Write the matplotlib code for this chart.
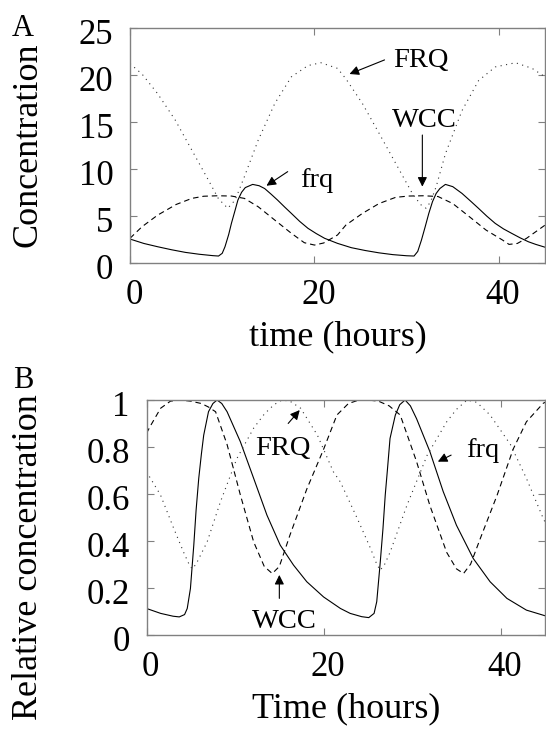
import matplotlib
matplotlib.use("Agg")
import matplotlib.pyplot as plt
import matplotlib.transforms as mtransforms

# ---- panel A: absolute concentrations ----
a_frq_t = [0, 1.5, 3, 4.5, 6, 7.5, 9, 9.6, 10.0, 10.3, 10.7, 11.0, 11.4, 11.7, 12.1, 12.5,
           13.3, 14.0, 14.6, 15.3, 16.0, 16.8, 17.5, 18.4, 19.3, 20.2, 21.1, 22.5, 24, 25.5,
           27, 28.5, 30, 30.8, 31.2, 31.6, 32.0, 32.4, 32.8, 33.2, 33.6, 34.2, 35.0, 36.0,
           37.0, 37.8, 38.7, 39.6, 40.5, 41.4, 42.3, 43.2, 44.0, 45]
a_frq = [2.52, 2.05, 1.7, 1.38, 1.1, 0.9, 0.75, 0.71, 1.0, 1.7, 3.0, 4.2, 5.6, 6.67, 7.5, 8.0,
         8.34, 8.2, 7.9, 7.3, 6.67, 5.9, 5.25, 4.4, 3.66, 3.1, 2.6, 2.06, 1.6, 1.3,
         1.05, 0.86, 0.74, 0.71, 1.2, 2.4, 3.8, 5.25, 6.5, 7.38, 7.9, 8.34, 8.1, 7.38,
         6.5, 5.78, 4.95, 4.19, 3.6, 3.12, 2.65, 2.23, 1.95, 1.65]

a_wcc_t = [0, 1.3, 3, 5, 6.7, 8, 9.5, 11, 12.4, 13.9, 15.7, 17.5, 18.9, 20.0, 21.0, 22.5,
           23.4, 25.2, 27.0, 28.8, 30.2, 31.8, 33.4, 35.0, 36.8, 38.6, 40.4, 41.1, 42.0,
           43.0, 44.0, 45]
a_wcc = [2.6, 3.83, 5.07, 6.2, 6.85, 7.08, 7.13, 7.1, 6.85, 5.96, 4.54, 3.13, 2.13, 1.88,
         2.1, 2.95, 4.0, 5.25, 6.3, 6.96, 7.1, 7.13, 7.05, 6.3, 4.9, 3.48, 2.41, 1.95, 2.05,
         2.6, 3.3, 4.0]

a_FRQ_t = [0, 1.3, 3, 4.9, 6.7, 8.5, 9.6, 10.6, 11.4, 12.4, 13.9, 15.7, 17.5, 19.3, 20.7,
           22.5, 23.4, 25.2, 27.0, 28.8, 30.6, 31.5, 32.1, 32.6, 33.2, 34.2, 36.0, 37.8,
           39.6, 41.8, 43.6, 45]
a_FRQ = [21.2, 20.1, 18.0, 15.2, 12.0, 8.8, 6.8, 5.8, 6.67, 9.15, 13.05, 16.96, 19.8, 21.0,
         21.3, 20.7, 19.6, 16.96, 13.8, 10.6, 7.4, 6.2, 5.8, 6.5, 8.1, 11.6, 16.2, 19.4,
         20.85, 21.3, 20.7, 19.8]

# ---- panel B: relative concentrations ----
b_frq_t = [0, 1.6, 3.0, 3.7, 4.3, 4.6, 4.96, 5.34, 5.6, 5.9, 6.2, 6.46, 7.0, 7.5, 7.97, 8.5,
           9.1, 10.6, 12.1, 13.6, 15.1, 16.6, 18.1, 20.0, 21.9, 23.0, 24.3, 25.1, 25.7, 26.0,
           26.4, 26.7, 26.96, 27.2, 27.5, 28.1, 28.6, 29.2, 29.8, 30.5, 32.0, 33.5, 35.0,
           36.9, 38.8, 40.7, 42.9, 45]
b_frq = [0.111, 0.09, 0.078, 0.075, 0.085, 0.111, 0.196, 0.381, 0.53, 0.666, 0.77, 0.85,
         0.95, 0.985, 1.0, 0.985, 0.95, 0.822, 0.666, 0.509, 0.381, 0.296, 0.225, 0.16, 0.111,
         0.09, 0.076, 0.072, 0.09, 0.14, 0.31, 0.45, 0.595, 0.7, 0.836, 0.936, 0.98, 1.0,
         0.975, 0.92, 0.78, 0.61, 0.466, 0.324, 0.225, 0.154, 0.104, 0.08]

b_wcc_t = [0, 0.45, 1.6, 2.7, 3.8, 5.0, 6.2, 7.0, 7.8, 9.1, 10.6, 12.1, 13.3, 14.2, 15.0,
           16.2, 18.1, 20.0, 21.5, 22.8, 24.0, 25.0, 26.2, 27.4, 28.65, 30.5, 32.0, 33.9,
           35.0, 35.8, 36.6, 37.7, 39.6, 41.4, 42.9, 44.8, 45]
b_wcc = [0.858, 0.89, 0.965, 0.995, 1.0, 0.995, 0.985, 0.97, 0.95, 0.81, 0.595, 0.395, 0.29,
         0.26, 0.29, 0.424, 0.62, 0.79, 0.936, 0.985, 1.0, 1.0, 0.995, 0.975, 0.936, 0.737,
         0.55, 0.35, 0.28, 0.26, 0.3, 0.41, 0.595, 0.79, 0.907, 0.986, 0.99]

b_FRQ_t = [0, 1.58, 3.08, 4.2, 4.8, 5.15, 5.6, 6.85, 8.35, 10.2, 12.1, 13.3, 14.4, 15.3,
           16.2, 17.4, 19.3, 21.1, 21.9, 23.8, 25.3, 26.0, 26.4, 26.9, 27.5, 29.4, 31.7,
           33.9, 35.0, 36.2, 37.3, 38.8, 41.1, 42.9, 44.8, 45]
b_FRQ = [0.694, 0.595, 0.452, 0.35, 0.3, 0.28, 0.3, 0.395, 0.566, 0.75, 0.88, 0.94, 0.98,
         1.0, 0.995, 0.965, 0.85, 0.694, 0.65, 0.495, 0.367, 0.3, 0.274, 0.3, 0.35, 0.55,
         0.765, 0.907, 0.96, 1.0, 0.99, 0.936, 0.81, 0.666, 0.495, 0.48]

a_yticks = [0, 5, 10, 15, 20, 25]
b_yticks = [0, 0.2, 0.4, 0.6, 0.8, 1]
b_yticklabels = ["0", "0.2", "0.4", "0.6", "0.8", "1"]
xticks = [0, 20, 40]

W, H = 546, 729
plt.rcParams["font.family"] = ["Liberation Serif", "DejaVu Serif"]

SOLID = dict(color="black", lw=0.8, linestyle="-")
DASHED = dict(color="black", lw=0.8, linestyle=(0, (5, 3.5)))
DOTTED = dict(color="#333333", lw=0.8, linestyle=(0, (1, 4)))
ARROW = dict(arrowstyle="-|>", color="black", lw=0.8, mutation_scale=14,
             shrinkA=0, shrinkB=0)


def frac(x0, y0, x1, y1):
    return [x0 / W, 1 - y1 / H, (x1 - x0) / W, (y1 - y0) / H]


def style_axes(ax, fig):
    for sp in ax.spines.values():
        sp.set_color("#808080")
        sp.set_linewidth(1.0)
    ax.tick_params(direction="in", length=5, width=0.8, color="#808080",
                   top=True, right=True, labelsize=25, pad=12)
    dx = mtransforms.ScaledTranslation(4 / 100, 0, fig.dpi_scale_trans)
    dy = mtransforms.ScaledTranslation(0, -4 / 100, fig.dpi_scale_trans)
    for lab in ax.get_xticklabels():
        lab.set_transform(lab.get_transform() + dx)
    for lab in ax.get_yticklabels():
        lab.set_transform(lab.get_transform() + dy)


def main() -> None:
    fig = plt.figure(figsize=(W / 100, H / 100), dpi=100)

    # panel A
    ax1 = fig.add_axes(frac(130, 28, 545, 262.7))
    ax1.plot(a_frq_t, a_frq, **SOLID)
    ax1.plot(a_wcc_t, a_wcc, **DASHED)
    ax1.plot(a_FRQ_t, a_FRQ, **DOTTED)
    ax1.set_xlim(0, 45)
    ax1.set_ylim(0, 25)
    ax1.set_xticks(xticks)
    ax1.set_yticks(a_yticks)
    style_axes(ax1, fig)
    ax1.annotate("", xy=(23.8, 20.1), xytext=(27.6, 21.6), arrowprops=ARROW)
    ax1.text(31.5, 20.85, "FRQ", fontsize=20.5, ha="center", va="baseline")
    ax1.annotate("", xy=(31.7, 8.1), xytext=(31.7, 13.6), arrowprops=ARROW)
    ax1.text(31.9, 14.5, "WCC", fontsize=20.5, ha="center", va="baseline")
    ax1.annotate("", xy=(14.8, 8.2), xytext=(17.1, 9.7), arrowprops=ARROW)
    ax1.text(20.3, 8.1, "frq", fontsize=20.5, ha="center", va="baseline")

    fig.text(23 / W, 1 - 28 / H, "A", fontsize=22, ha="center", va="center")
    fig.text(28.5 / W, 1 - 145 / H, "Concentration", fontsize=26, rotation=90,
             ha="center", va="center")
    fig.text(337.5 / W, 1 - 337 / H, "time (hours)", fontsize=26,
             ha="center", va="center")

    # panel B
    ax2 = fig.add_axes(frac(146.5, 400, 545, 634.5))
    ax2.plot(b_frq_t, b_frq, **SOLID)
    ax2.plot(b_wcc_t, b_wcc, **DASHED)
    ax2.plot(b_FRQ_t, b_FRQ, **DOTTED)
    ax2.set_xlim(0, 45)
    ax2.set_ylim(0, 1)
    ax2.set_xticks(xticks)
    ax2.set_yticks(b_yticks)
    ax2.set_yticklabels(b_yticklabels)
    style_axes(ax2, fig)
    ax2.annotate("", xy=(17.3, 0.957), xytext=(16.0, 0.90), arrowprops=ARROW)
    ax2.text(15.4, 0.765, "FRQ", fontsize=20.5, ha="center", va="baseline")
    ax2.annotate("", xy=(15.0, 0.254), xytext=(15.0, 0.154), arrowprops=ARROW)
    ax2.text(15.6, 0.028, "WCC", fontsize=20.5, ha="center", va="baseline")
    ax2.annotate("", xy=(32.9, 0.737), xytext=(34.4, 0.765), arrowprops=ARROW)
    ax2.text(38.0, 0.758, "frq", fontsize=20.5, ha="center", va="baseline")

    fig.text(23 / W, 1 - 380 / H, "B", fontsize=22, ha="center", va="center")
    fig.text(29 / W, 1 - 557 / H, "Relative concentration", fontsize=26, rotation=90,
             ha="center", va="center")
    fig.text(346 / W, 1 - 709 / H, "Time (hours)", fontsize=26,
             ha="center", va="center")

    fig.savefig("out.png", dpi=100)
    plt.close(fig)


if __name__ == "__main__":
    main()
